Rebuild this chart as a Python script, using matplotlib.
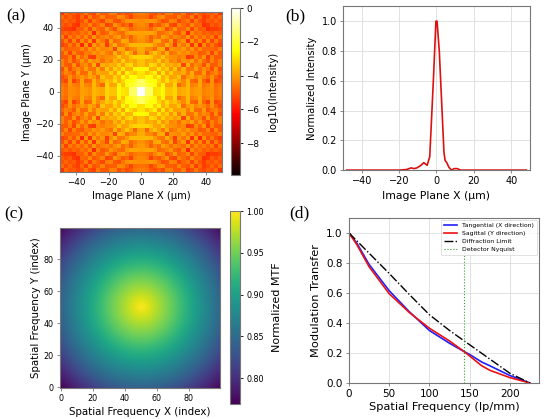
import numpy as np
import matplotlib
matplotlib.use("Agg")
import matplotlib.pyplot as plt

# ---------------- data ----------------
# (a) PSF sampling parameters
psf_cells = 40                 # pixels across the image
psf_half_width = 50.0          # µm
airy_first_zero = 4.6          # µm, radius of first dark ring
log_floor = -9.9
min_weight = 0.35              # blend between sub-pixel minimum and pixel mean

# (b) central line profile of the PSF
prof_x = [-48, -20, -16, -13.5, -12, -10.5, -8.5, -6.8, -5.0, -3.6, -1.6, -0.3,
          0.3, 1.5, 4.0, 4.6, 5.5, 6.6, 8.0, 9.5, 11.0, 13.0, 20, 48]
prof_y = [0.0, 0.0, 0.004, 0.015, 0.010, 0.015, 0.030, 0.050, 0.032, 0.09, 0.62, 1.0,
          1.0, 0.80, 0.12, 0.065, 0.05, 0.02, 0.0, 0.01, 0.01, 0.0, 0.0, 0.0]

# (c) radial profile of the normalized MTF map (radius in index units)
mtf_r = [0, 10, 20, 30, 40, 50, 60, 71]
mtf_v = [1.0, 0.972, 0.943, 0.910, 0.876, 0.842, 0.806, 0.769]
mtf_n = 100

# (d) MTF curves
freq = [0, 10, 25, 50, 75, 100, 125, 143, 150, 165, 175, 200, 225]
tangential = [1.0, 0.93, 0.79, 0.615, 0.475, 0.35, 0.265, 0.21, 0.19, 0.14, 0.115, 0.05, 0.0]
sagittal = [1.0, 0.92, 0.775, 0.595, 0.47, 0.365, 0.28, 0.21, 0.18, 0.115, 0.085, 0.036, 0.0]
diff_f = [0, 25, 50, 75, 100, 125, 150, 175, 200, 225]
diff_m = [1.0, 0.865, 0.73, 0.59, 0.455, 0.35, 0.255, 0.16, 0.065, 0.0]
nyquist = 142.9

# ---------------- build PSF image (sampled Airy pattern) ----------------
def bessel_j1(x):
    tau = np.linspace(0, np.pi, 801)
    flat = x.ravel()
    out = np.empty_like(flat)
    for s in range(0, flat.size, 4000):
        v = np.cos(tau[None, :] - flat[s:s + 4000, None] * np.sin(tau[None, :]))
        out[s:s + 4000] = np.trapezoid(v, tau, axis=1) / np.pi
    return out.reshape(x.shape)

sub = 2
step = 2 * psf_half_width / psf_cells
fine = -psf_half_width + step / sub * (np.arange(psf_cells * sub) + 0.5)
FX, FY = np.meshgrid(fine, fine)
u = 3.8317 * np.hypot(FX, FY) / airy_first_zero
u = np.where(u == 0, 1e-9, u)
If = (2 * bessel_j1(u) / u) ** 2
blocks = If.reshape(psf_cells, sub, psf_cells, sub)
I = blocks.min(axis=(1, 3)) ** min_weight * blocks.mean(axis=(1, 3)) ** (1 - min_weight)
I = I / I.max()
logI = np.log10(np.clip(I, 10 ** log_floor, None))

# MTF map
ii = np.arange(mtf_n)
MX, MY = np.meshgrid(ii, ii)
MR = np.hypot(MX - 50, MY - 50)
mtf_map = np.interp(MR, mtf_r, mtf_v)

# ---------------- figure ----------------
fig = plt.figure(figsize=(5.5, 4.19), dpi=100)
spine_col = "#777777"

def style(ax, fs):
    for s in ax.spines.values():
        s.set_color(spine_col)
        s.set_linewidth(0.8)
    ax.tick_params(labelsize=fs, length=2.5, width=0.6, color=spine_col, pad=2)

# (a)
axa = fig.add_axes([0.109, 0.5895, 0.2945, 0.382])
ima = axa.imshow(logI, cmap="hot", origin="lower", vmin=log_floor, vmax=0,
                 extent=[-psf_half_width, psf_half_width, -psf_half_width, psf_half_width],
                 interpolation="nearest", aspect="auto")
axa.set_xticks([-40, -20, 0, 20, 40])
axa.set_yticks([-40, -20, 0, 20, 40])
axa.set_xlabel("Image Plane X (µm)", fontsize=7.2, labelpad=3)
axa.set_ylabel("Image Plane Y (µm)", fontsize=7.2, labelpad=2)
style(axa, 6.3)
caxa = fig.add_axes([0.420, 0.582, 0.0164, 0.3986])
cba = fig.colorbar(ima, cax=caxa, ticks=[0, -2, -4, -6, -8])
cba.ax.tick_params(labelsize=6.3, length=2.5, width=0.6, pad=2)
cba.outline.set_edgecolor(spine_col)
cba.set_label("log10(Intensity)", fontsize=7.2, labelpad=6)

# (b)
axb = fig.add_axes([0.6236, 0.594, 0.34, 0.391])
axb.plot(prof_x, prof_y, color="#dd1010", lw=1.2)
axb.set_xlim(-50, 50)
axb.set_ylim(0, 1.1)
axb.set_yticks([0.0, 0.2, 0.4, 0.6, 0.8, 1.0])
axb.set_xticks([-40, -20, 0, 20, 40])
axb.grid(True, color="#dddddd", lw=0.6)
axb.set_axisbelow(True)
axb.set_xlabel("Image Plane X (µm)", fontsize=7.8, labelpad=3)
axb.set_ylabel("Normalized Intensity", fontsize=7.2, labelpad=3)
style(axb, 7.0)

# (c)
axc = fig.add_axes([0.109, 0.074, 0.291, 0.382])
imc = axc.imshow(mtf_map, cmap="viridis", origin="lower", vmin=0.769, vmax=1.0,
                 aspect="auto")
axc.set_xticks([0, 20, 40, 60, 80])
axc.set_yticks([0, 20, 40, 60, 80])
axc.set_xlabel("Spatial Frequency X (index)", fontsize=7.4, labelpad=3)
axc.set_ylabel("Spatial Frequency Y (index)", fontsize=7.4, labelpad=2)
style(axc, 5.8)
caxc = fig.add_axes([0.418, 0.0358, 0.018, 0.4606])
cbc = fig.colorbar(imc, cax=caxc, ticks=[0.80, 0.85, 0.90, 0.95, 1.00])
cbc.ax.set_yticklabels(["0.80", "0.85", "0.90", "0.95", "1.00"])
cbc.ax.tick_params(labelsize=5.8, length=2.5, width=0.6, pad=2)
cbc.outline.set_edgecolor(spine_col)
cbc.set_label("Normalized MTF", fontsize=8.0, labelpad=6)

# (d)
axd = fig.add_axes([0.6345, 0.0859, 0.3455, 0.394])
axd.plot(freq, tangential, color="#1f1fff", lw=1.2, label="Tangential (X direction)")
axd.plot(freq, sagittal, color="#ee1111", lw=1.2, label="Sagittal (Y direction)")
axd.plot(diff_f, diff_m, color="black", lw=1.0, ls="-.", label="Diffraction Limit")
axd.axvline(nyquist, color="#2ca02c", lw=0.8, ls=":", label="Detector Nyquist")
axd.set_xlim(left=0)
axd.set_ylim(0, 1.1)
axd.set_xticks([0, 50, 100, 150, 200])
axd.set_yticks([0.0, 0.2, 0.4, 0.6, 0.8, 1.0])
axd.grid(True, color="#dddddd", lw=0.6)
axd.set_axisbelow(True)
axd.set_xlabel("Spatial Frequency (lp/mm)", fontsize=8.2, labelpad=2)
axd.set_ylabel("Modulation Transfer", fontsize=8.2, labelpad=4)
style(axd, 7.5)
leg = axd.legend(loc="upper right", fontsize=4.4, frameon=True, borderpad=0.5,
                 handlelength=2.2, labelspacing=0.45, borderaxespad=0.3)
leg.get_frame().set_linewidth(0.5)

# panel letters
for (xx, yy, t) in [(0.012, 0.96, "(a)"), (0.518, 0.96, "(b)"),
                    (0.008, 0.488, "(c)"), (0.525, 0.49, "(d)")]:
    fig.text(xx, yy, t, fontsize=12.5, family="Liberation Serif", va="center")

fig.savefig("out.png", dpi=100)
